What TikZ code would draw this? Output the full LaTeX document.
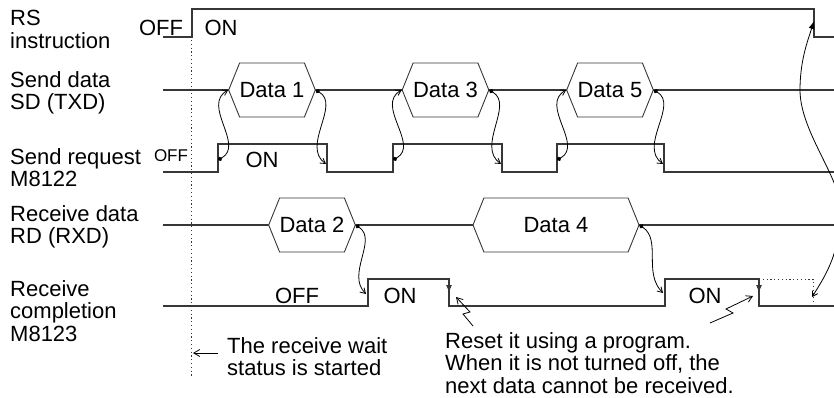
\documentclass[tikz,border=0pt]{standalone}
\usepackage{fontspec}
\setmainfont{Liberation Sans}
\usetikzlibrary{shapes.symbols,arrows.meta}
\begin{document}
\begin{tikzpicture}[x=1pt,y=-1pt]
	\tikzstyle{every node}=[font=\fontsize{22pt}{22.5pt}\selectfont, inner sep=0pt]
	\tikzstyle{wave}=[line width=1.2pt, color={rgb,255:red,55; green,55; blue,55}]
	\tikzstyle{dots}=[line width=0.9pt, color={rgb,255:red,55; green,55; blue,55}, dash pattern=on 1.2pt off 2.6pt]
	\tikzstyle{hexa}=[signal, signal to=west and east, signal pointer angle=136, draw={rgb,255:red,55; green,55; blue,55}, fill=white, line width=0.9pt, minimum height=54pt]
	\tikzstyle{lbl}=[align=left, anchor=north west]
	\tikzstyle{wig}=[line width=0.8pt, {Circle[length=4.5pt]}-{Straight Barb[length=5pt,width=6pt]}]
	\tikzstyle{zap}=[line width=0.8pt, -{Straight Barb[length=6pt,width=7pt]}]
	\tikzstyle{reset}=[wave, -{Latex[length=8pt,width=6pt]}]
	
	\useasboundingbox (0,0) rectangle (834,398);
	
	\draw[dots] (191,40) -- (191,378);
	
	\draw[wave] (163,37) -- (192,37) -- (192,9) -- (814,9) -- (814,37) -- (834,37);
	\draw[wave] (163,90) -- (834,90);
	\draw[wave] (163,172) -- (218,172) |- (327,144) |- (393,172) |- (502,144) |- (557,172) |- (664,144) |- (834,172);
	\draw[wave] (163,225) -- (834,225);
	\draw[wave] (163,306) -- (368,306) |- (449,279) |- (665,306) |- (759,279) |- (834,306);
	\draw[dots] (759,279) -- (813,279) -- (813,306);
	
	\coordinate (rq1) at (218,160);
	\coordinate (rq3) at (393,160);
	\coordinate (rq5) at (557,160);
	\coordinate (fq1) at (326,164);
	\coordinate (fq3) at (501,164);
	\coordinate (fq5) at (663,164);
	\coordinate (rc2) at (366,294);
	\coordinate (rc4) at (663,293);
	\coordinate (clr1) at (449,293);
	\coordinate (clr2) at (759,293);
	\coordinate (rsoff) at (814,21);
	\coordinate (nextrc) at (812,297);
	
	\node[hexa, minimum width=58pt] (d1) at (272,90) {Data 1};
	\node[hexa, minimum width=63pt] (d3) at (445.5,90) {Data 3};
	\node[hexa, minimum width=58pt] (d5) at (610,90) {Data 5};
	\node[hexa, minimum width=56pt] (d2) at (312,225) {Data 2};
	\node[hexa, minimum width=166pt] (d4) at (556,225) {Data 4};
	
	\draw[wig] (rq1) .. controls +(27,-15) and +(-27,15) .. (d1.west);
	\draw[wig] (rq3) .. controls +(27,-15) and +(-27,15) .. (d3.west);
	\draw[wig] (rq5) .. controls +(27,-15) and +(-27,15) .. (d5.west);
	\draw[wig] (d1.east) .. controls +(25,15) and +(-25,-18) .. (fq1);
	\draw[wig] (d3.east) .. controls +(25,15) and +(-25,-18) .. (fq3);
	\draw[wig] (d5.east) .. controls +(25,15) and +(-25,-18) .. (fq5);
	\draw[wig] (d2.east) .. controls +(22,15) and +(-20,-20) .. (rc2);
	\draw[wig] (d4.east) .. controls +(22,15) and +(-20,-20) .. (rc4);
	
	\draw[reset] (449,279) -- (clr1);
	\draw[reset] (759,279) -- (clr2);
	\draw[line width=0.8pt, {Straight Barb[length=5pt,width=6pt]}-{Latex[length=8pt,width=6pt]}] (nextrc) .. controls (826,275) and (842,250) .. (840,205) .. controls (838,175) and (800,130) .. (800,90) .. controls (800,60) and (808,40) .. (rsoff);
	
	\node[lbl] (rs) at (10,10) {RS\\instruction};
	\node[lbl] (sd) at (10,71) {Send data\\SD (TXD)};
	\node[lbl] (sr) at (10,148) {Send request\\M8122};
	\node[lbl] (rd) at (10,205) {Receive data\\RD (RXD)};
	\node[lbl] (rc) at (10,280) {Receive\\completion\\M8123};
	
	\node (rsOFF) at (161,28) {OFF};
	\node (rsON) at (221,28) {ON};
	\node[font=\fontsize{17pt}{17pt}\selectfont] (srOFF) at (171,156) {OFF};
	\node (srON) at (262,160) {ON};
	\node (rcOFF) at (297,296) {OFF};
	\node (rcON1) at (400,296) {ON};
	\node (rcON2) at (705,296) {ON};
	
	\node[lbl] (wait) at (227,337) {The receive wait\\status is started};
	\node[lbl] (note) at (445,332) {Reset it using a program.\\When it is not turned off, the\\next data cannot be received.};
	
	\draw[zap] (218,353) -- (193,353);
	\draw[zap] (473,326) -- (463,314) -- (470,312) -- (456,297);
	\draw[zap] (710,323) -- (733,313) -- (726,309) -- (753,296);
	
\end{tikzpicture}
\end{document}
